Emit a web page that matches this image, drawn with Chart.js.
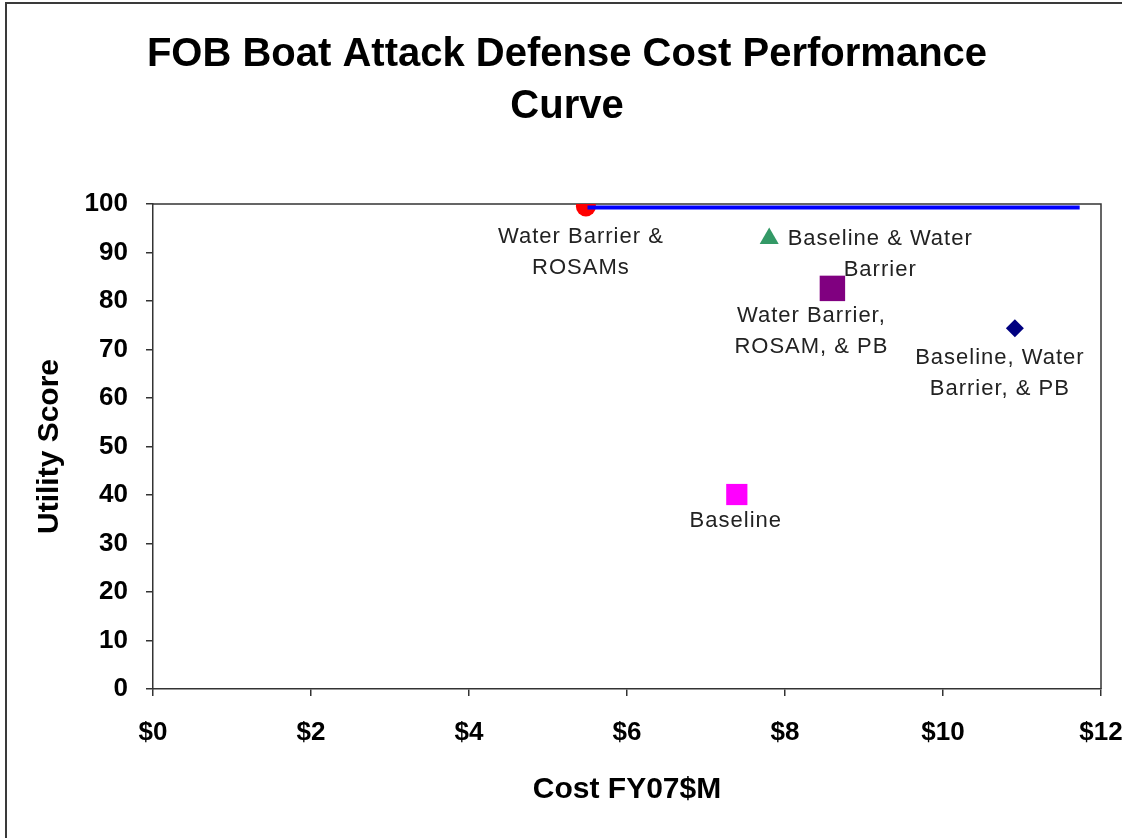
<!DOCTYPE html>
<html>
<head>
<meta charset="utf-8">
<script src="https://cdn.jsdelivr.net/npm/chart.js@4.4.1/dist/chart.umd.min.js"></script>
<style>
  html, body { margin: 0; padding: 0; background: #fff; }
  #wrap { position: relative; width: 1122px; height: 838px; overflow: hidden; }
  #frame { position: absolute; left: 5px; top: 2px; width: 1200px; height: 900px;
           border-left: 2px solid #3a3a3a; border-top: 2px solid #3a3a3a; }
  canvas { position: absolute; left: 0; top: 0; }
</style>
</head>
<body>
<div id="wrap">
  <div id="frame"></div>
  <canvas id="cost-chart" width="1122" height="838"></canvas>
</div>
<script>
// Chart data
var chartTitle = ['FOB Boat Attack Defense Cost Performance', 'Curve'];
var optionLabels = [
  ['Water Barrier &', 'ROSAMs'],
  ['Baseline & Water', 'Barrier'],
  ['Water Barrier,', 'ROSAM, & PB'],
  ['Baseline, Water', 'Barrier, & PB'],
  ['Baseline']
];
var optionCost = [5.48, 7.8, 8.6, 10.91, 7.39];
var optionScore = [99.5, 92.9, 82.6, 74.4, 40.1];
var frontierCost = [5.5, 11.73];
var frontierScore = [99.3, 99.3];
var xTicks = [0, 2, 4, 6, 8, 10, 12];
var yTicks = [0, 10, 20, 30, 40, 50, 60, 70, 80, 90, 100];

// Marker looks, one per option
var markerStyle = ['circle', 'triangle', 'rect', 'rectRot', 'rect'];
var markerColor = ['#ff0000', '#339966', '#800080', '#000080', '#ff00ff'];
var markerRadius = [10, 11, 18, 9, 15];
// label placement relative to its marker: centre offset x, first line offset y
var labelOffset = [[-5, 31], [111, 1], [-21, 28], [-15, 30], [-1, 26]];

var FONT = "'Liberation Sans', Arial, sans-serif";

var points = optionCost.map(function (c, i) { return { x: c, y: optionScore[i] }; });
var frontier = frontierCost.map(function (c, i) { return { x: c, y: frontierScore[i] }; });

// Title centred over the page like the original
var titlePlugin = {
  id: 'pageTitle',
  afterDraw: function (chart) {
    var ctx = chart.ctx;
    ctx.save();
    ctx.font = 'bold 40px ' + FONT;
    ctx.fillStyle = '#000';
    ctx.textAlign = 'center';
    ctx.textBaseline = 'middle';
    chartTitle.forEach(function (line, i) {
      ctx.fillText(line, 567, 55 + i * 52);
    });
    ctx.restore();
  }
};

// Top and right edges of the plot box
var boxPlugin = {
  id: 'plotBox',
  beforeDatasetsDraw: function (chart) {
    var a = chart.chartArea, ctx = chart.ctx;
    ctx.save();
    ctx.strokeStyle = '#333';
    ctx.lineWidth = 1.5;
    ctx.beginPath();
    ctx.moveTo(a.left, a.top);
    ctx.lineTo(a.right, a.top);
    ctx.lineTo(a.right, a.bottom);
    ctx.stroke();
    ctx.restore();
  }
};

// Option names next to each marker
var labelPlugin = {
  id: 'optionNames',
  afterDatasetsDraw: function (chart) {
    var meta = chart.getDatasetMeta(1);
    var ctx = chart.ctx;
    ctx.save();
    ctx.font = '22px ' + FONT;
    ctx.letterSpacing = '1px';
    ctx.fillStyle = '#222';
    ctx.textAlign = 'center';
    ctx.textBaseline = 'middle';
    meta.data.forEach(function (pt, i) {
      optionLabels[i].forEach(function (line, j) {
        ctx.fillText(line, pt.x + labelOffset[i][0], pt.y + labelOffset[i][1] + j * 31);
      });
    });
    ctx.restore();
  }
};

var axisLine = { display: true, color: '#333', width: 1.5 };
var axisGrid = { drawOnChartArea: false, drawTicks: true, tickLength: 7, color: '#333', lineWidth: 1.5 };

var chartConfig = {
  type: 'scatter',
  data: {
    datasets: [
      {
        label: 'Frontier',
        data: frontier,
        showLine: true,
        borderColor: '#0000ff',
        borderWidth: 4,
        pointRadius: 0
      },
      {
        label: 'Options',
        data: points,
        pointStyle: markerStyle,
        backgroundColor: markerColor,
        borderColor: markerColor,
        borderWidth: 0,
        pointRadius: markerRadius
      }
    ]
  },
  options: {
    responsive: false,
    animation: false,
    events: [],
    layout: { padding: { top: 204, right: 21, bottom: 0, left: 0 } },
    plugins: {
      legend: { display: false },
      title: { display: false },
      tooltip: { enabled: false }
    },
    scales: {
      x: {
        type: 'linear',
        min: xTicks[0],
        max: xTicks[xTicks.length - 1],
        border: axisLine,
        grid: axisGrid,
        ticks: {
          stepSize: xTicks[1] - xTicks[0],
          color: '#000',
          padding: 21,
          maxRotation: 0,
          font: { family: FONT, size: 26, weight: 'bold' },
          callback: function (v) { return '$' + v; }
        },
        title: {
          display: true,
          text: 'Cost FY07$M',
          color: '#000',
          padding: { top: 0, bottom: 30 },
          font: { family: FONT, size: 30, weight: 'bold' }
        },
        afterFit: function (s) { s.height = 149; s.paddingLeft = 0; s.paddingRight = 0; }
      },
      y: {
        min: yTicks[0],
        max: yTicks[yTicks.length - 1],
        border: axisLine,
        grid: axisGrid,
        ticks: {
          stepSize: yTicks[1] - yTicks[0],
          color: '#000',
          padding: 18,
          font: { family: FONT, size: 26, weight: 'bold' }
        },
        title: {
          display: true,
          text: 'Utility Score',
          color: '#000',
          padding: { top: 32, bottom: 0 },
          font: { family: FONT, size: 30, weight: 'bold' }
        },
        afterFit: function (s) { s.width = 153; s.paddingTop = 0; s.paddingBottom = 0; }
      }
    }
  },
  plugins: [titlePlugin, boxPlugin, labelPlugin]
};

var costChart = new Chart(document.getElementById('cost-chart'), chartConfig);
</script>
</body>
</html>
